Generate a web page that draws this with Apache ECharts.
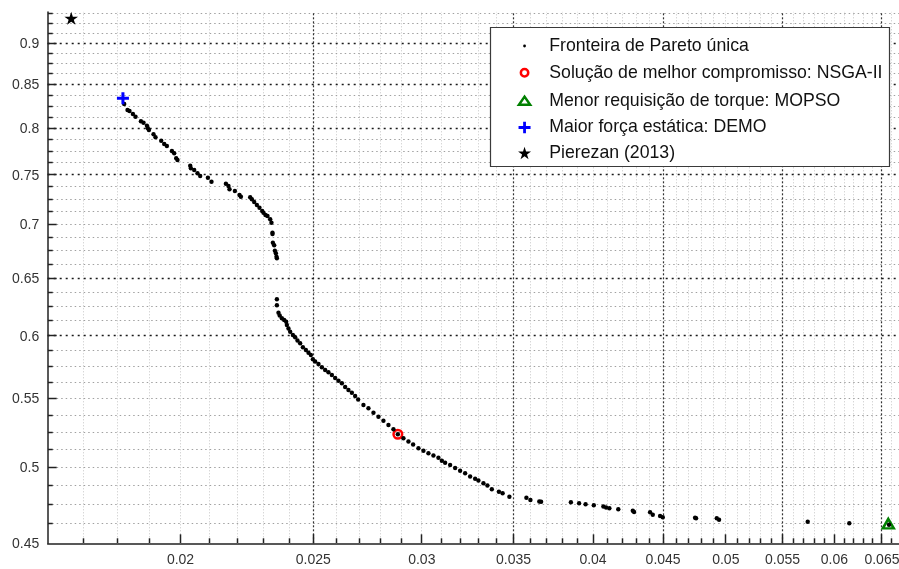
<!DOCTYPE html>
<html>
<head>
<meta charset="utf-8">
<title>Fronteira de Pareto</title>
<script src="https://cdn.jsdelivr.net/npm/echarts@6/dist/echarts.min.js"></script>
<style>
  html, body { margin: 0; padding: 0; background: #fff; }
  #chart { width: 899px; height: 569px; }
</style>
</head>
<body>
<div id="chart"></div>
<script>
// Non-dominated solutions (torque requirement vs. static force objective)
const paretoX = [
  0.018195, 0.018296, 0.018358, 0.018463, 0.018544, 0.018713, 0.018795, 0.018903, 0.018934, 0.018966,
  0.019113, 0.019178, 0.019362, 0.019460, 0.019548, 0.019713, 0.019789, 0.019856, 0.019899, 0.020329,
  0.020352, 0.020466, 0.020579, 0.020673, 0.020942, 0.021069, 0.021585, 0.021679, 0.021716, 0.021914,
  0.022084, 0.022136, 0.022484, 0.022548, 0.022636, 0.022739, 0.022838, 0.022942, 0.022992, 0.023070,
  0.023147, 0.023252, 0.023303, 0.023343, 0.023343, 0.023358, 0.023409, 0.023437, 0.023476, 0.023500,
  0.023516, 0.023516, 0.023516, 0.023579, 0.023627, 0.023714, 0.023806, 0.023886, 0.023914, 0.023978,
  0.024047, 0.024156, 0.024250, 0.024344, 0.024454, 0.024566, 0.024690, 0.024798, 0.024898, 0.024982,
  0.025078, 0.025218, 0.025362, 0.025503, 0.025645, 0.025792, 0.025935, 0.026079, 0.026229, 0.026375,
  0.026521, 0.026673, 0.026821, 0.026957, 0.027198, 0.027427, 0.027659, 0.027892, 0.028127, 0.028365,
  0.028604, 0.028816, 0.029088, 0.029334, 0.029566, 0.029831, 0.030082, 0.030336, 0.030592, 0.030850,
  0.031027, 0.031199, 0.031462, 0.031728, 0.031995, 0.032265, 0.032537, 0.032812, 0.032994, 0.033272,
  0.033497, 0.033745, 0.034150, 0.034363, 0.034757, 0.035764, 0.036006, 0.036548, 0.036659, 0.038541,
  0.039075, 0.039504, 0.040052, 0.040703, 0.040888, 0.041115, 0.041735, 0.042764, 0.042857, 0.044025,
  0.044225, 0.044771, 0.044974, 0.047482, 0.047562, 0.049244, 0.049435, 0.057376, 0.061528, 0.065772
];
const paretoY = [
  0.82732, 0.82047, 0.81933, 0.81593, 0.81288, 0.80771, 0.80615, 0.80280, 0.79991, 0.79803,
  0.79328, 0.79000, 0.78628, 0.78269, 0.78053, 0.77514, 0.77267, 0.76733, 0.76552, 0.75950,
  0.75676, 0.75498, 0.75153, 0.74873, 0.74696, 0.74284, 0.74078, 0.73842, 0.73505, 0.73332,
  0.72927, 0.72755, 0.72695, 0.72494, 0.72222, 0.71923, 0.71654, 0.71327, 0.71159, 0.70933,
  0.70835, 0.70511, 0.70180, 0.69214, 0.69089, 0.68261, 0.68015, 0.67508, 0.67265, 0.66949,
  0.66800, 0.63112, 0.62589, 0.61950, 0.61710, 0.61471, 0.61326, 0.61182, 0.60903, 0.60608,
  0.60340, 0.60064, 0.59873, 0.59608, 0.59377, 0.59049, 0.58829, 0.58609, 0.58423, 0.58075,
  0.57898, 0.57698, 0.57434, 0.57220, 0.57038, 0.56825, 0.56589, 0.56378, 0.56175, 0.55887,
  0.55656, 0.55448, 0.55195, 0.54927, 0.54510, 0.54261, 0.53932, 0.53633, 0.53337, 0.53020,
  0.52704, 0.52340, 0.52051, 0.51821, 0.51606, 0.51335, 0.51164, 0.50980, 0.50825, 0.50670,
  0.50460, 0.50320, 0.50160, 0.49952, 0.49765, 0.49586, 0.49366, 0.49216, 0.49093, 0.48903,
  0.48754, 0.48505, 0.48337, 0.48230, 0.48003, 0.47936, 0.47784, 0.47685, 0.47672, 0.47632,
  0.47573, 0.47500, 0.47441, 0.47355, 0.47290, 0.47244, 0.47172, 0.47080, 0.46996, 0.46976,
  0.46820, 0.46736, 0.46652, 0.46626, 0.46587, 0.46587, 0.46497, 0.46368, 0.46265, 0.46175
];

// Highlighted solutions [x, y]
const nsgaBest = [0.028816, 0.52340];
const mopsoMinTorque = [0.065695, 0.46239];
const demoMaxForce = [0.018156, 0.83388];
const pierezan2013 = [0.016645, 0.93176];

// Series names (legend order)
const seriesNames = [
  'Fronteira de Pareto única',
  'Solução de melhor compromisso: NSGA-II',
  'Menor requisição de torque: MOPSO',
  'Maior força estática: DEMO',
  'Pierezan (2013)'
];

// Axis ranges and labelled ticks (both axes logarithmic)
const xRange = [0.016, 0.067];
const yRange = [0.45, 0.94];
const xTickLabels = [0.02, 0.025, 0.03, 0.035, 0.04, 0.045, 0.05, 0.055, 0.06, 0.065];
const yTickLabels = [0.45, 0.5, 0.55, 0.6, 0.65, 0.7, 0.75, 0.8, 0.85, 0.9];
const xDarkGrid = [0.025, 0.035, 0.045, 0.055, 0.065];
const yDarkGrid = [0.6, 0.65, 0.75, 0.8, 0.85, 0.9];

// Minor tick steps: 0.001 on x, 0.0125 on y
const xMinor = [];
for (let k = 16; k <= 67; k++) xMinor.push(k / 1000);
const yMinor = [];
for (let k = 0; k <= 39; k++) yMinor.push(0.45 + k * 0.0125);

const FONT = '"Liberation Sans", Arial, Helvetica, sans-serif';
const near = (list, v) => list.some(m => Math.abs(m - v) < 1e-9);

// Grid lines, tick marks and tick labels placed through the log axes
function renderAxesDecor(params, api) {
  const [xl, yb] = api.coord([xRange[0], yRange[0]]);
  const [xr, yt] = api.coord([xRange[1], yRange[1]]);
  const snap = v => Math.round(v - 0.5) + 0.5;
  const px = v => snap(api.coord([v, yRange[0]])[0]);
  const py = v => snap(api.coord([xRange[0], v])[1]);
  const els = [];
  const line = (x1, y1, x2, y2, style) =>
    els.push({ type: 'line', shape: { x1, y1, x2, y2 }, style });

  xMinor.forEach(v => {
    if (v <= xRange[0] + 1e-9 || near(xDarkGrid, v)) return;
    const x = px(v);
    line(x, yb, x, yt, { stroke: '#c6c6c6', lineWidth: 1, lineDash: [1, 2] });
  });
  yMinor.forEach(v => {
    if (v <= yRange[0] + 1e-9 || near(yDarkGrid, v)) return;
    const y = py(v);
    line(xl, y, xr, y, { stroke: '#a0a0a0', lineWidth: 1, lineDash: [1.5, 3] });
  });
  xDarkGrid.forEach(v => {
    const x = px(v);
    line(x, yb, x, yt, { stroke: '#333', lineWidth: 1.2, lineDash: [2, 2] });
  });
  yDarkGrid.forEach(v => {
    const y = py(v);
    line(xl, y, xr, y, { stroke: '#1a1a1a', lineWidth: 1.3, lineDash: [2, 4] });
  });

  xMinor.forEach(v => {
    if (v <= xRange[0] + 1e-9) return;
    const x = px(v);
    const len = near(xTickLabels, v) ? 9 : 5;
    line(x, yb, x, yb - len, { stroke: '#222', lineWidth: 1.5 });
  });
  yMinor.forEach(v => {
    if (v <= yRange[0] + 1e-9) return;
    const y = py(v);
    const len = near(yTickLabels, v) ? 9 : 5;
    line(xl, y, xl + len, y, { stroke: '#222', lineWidth: 1.5 });
  });

  xTickLabels.forEach(v => {
    els.push({
      type: 'text', x: api.coord([v, yRange[0]])[0], y: yb + 17,
      style: { text: String(v), fontSize: 14, fontFamily: FONT, fill: '#333',
               align: 'center', verticalAlign: 'middle' }
    });
  });
  yTickLabels.forEach(v => {
    els.push({
      type: 'text', x: xl - 8.5, y: api.coord([xRange[0], v])[1] + 1,
      style: { text: String(v), fontSize: 14, fontFamily: FONT, fill: '#333',
               align: 'right', verticalAlign: 'middle' }
    });
  });
  return { type: 'group', children: els };
}

// Legend icons share a 43x20 frame so every marker sits in the same column
const frame = 'M0,0M43,20';
const legendIcons = [
  'path://' + frame + 'M21.9,10a1.4,1.4 0 1,0 2.8,0a1.4,1.4 0 1,0 -2.8,0z',
  'path://' + frame + 'M19.6,10a3.7,3.7 0 1,0 7.4,0a3.7,3.7 0 1,0 -7.4,0z',
  'path://' + frame + 'M23.3,5.9L28.9,14L17.7,14Z',
  'path://' + frame + 'M21.9,4.2h2.8v4.4h4.6v2.8h-4.6v4.4h-2.8v-4.4h-4.6v-2.8h4.6z',
  'path://' + frame + 'M23.3,3.85L24.83,8.55L29.77,8.55L25.77,11.45L27.3,16.15L23.3,13.25L19.3,16.15L20.83,11.45L16.83,8.55L21.77,8.55Z'
];
const plusSymbol = 'path://M-1.5,-6h3v4.5h4.5v3h-4.5v4.5h-3v-4.5h-4.5v-3h4.5z';
const starSymbol = 'path://M0,-6.8L1.53,-2.1L6.47,-2.1L2.47,0.8L4,5.5L0,2.6L-4,5.5L-2.47,0.8L-6.47,-2.1L-1.53,-2.1Z';

const paretoData = paretoX.map((x, i) => [x, paretoY[i]]);

const chart = echarts.init(document.getElementById('chart'), null, { renderer: 'canvas' });
chart.setOption({
  animation: false,
  backgroundColor: '#fff',
  grid: { left: 47.7, top: 11.9, width: 852.3, height: 531.4, outerBoundsMode: 'none' },
  xAxis: {
    type: 'log', min: xRange[0], max: xRange[1],
    axisLine: { show: true, lineStyle: { color: '#222', width: 1.5 } },
    axisTick: { show: false }, axisLabel: { show: false },
    splitLine: { show: false }, minorTick: { show: false }
  },
  yAxis: {
    type: 'log', min: yRange[0], max: yRange[1],
    axisLine: { show: true, lineStyle: { color: '#222', width: 1.5 } },
    axisTick: { show: false }, axisLabel: { show: false },
    splitLine: { show: false }, minorTick: { show: false }
  },
  legend: {
    orient: 'vertical', left: 490, top: 27.3,
    padding: [8.7, 8, 5, 10], itemGap: 5.5,
    itemWidth: 43, itemHeight: 20,
    selectedMode: false, z: 60,
    textStyle: { fontSize: 17.7, lineHeight: 20, color: '#111', fontFamily: FONT },
    data: [
      { name: seriesNames[0], icon: legendIcons[0], itemStyle: { color: '#000', borderWidth: 0, opacity: 1 } },
      { name: seriesNames[1], icon: legendIcons[1], itemStyle: { color: 'rgba(0,0,0,0)', borderColor: '#ff0000', borderWidth: 2.5, opacity: 1 } },
      { name: seriesNames[2], icon: legendIcons[2], itemStyle: { color: 'rgba(0,0,0,0)', borderColor: '#008000', borderWidth: 2.5, opacity: 1 } },
      { name: seriesNames[3], icon: legendIcons[3], itemStyle: { color: '#0000ff', borderWidth: 0, opacity: 1 } },
      { name: seriesNames[4], icon: legendIcons[4], itemStyle: { color: '#000', borderWidth: 0, opacity: 1 } }
    ]
  },
  graphic: [{
    type: 'rect', z: 50, silent: true,
    shape: { x: 490.5, y: 27.5, width: 399, height: 139 },
    style: { fill: '#fff', stroke: '#3a3a3a', lineWidth: 1.2 }
  }],
  series: [
    {
      type: 'custom', z: 1, silent: true,
      data: [[xRange[0], yRange[0]]],
      encode: { x: 0, y: 1 },
      renderItem: renderAxesDecor
    },
    {
      name: seriesNames[0], type: 'scatter', z: 6, silent: true,
      data: paretoData, symbol: 'circle', symbolSize: 4.4,
      itemStyle: { color: '#000', opacity: 1 }
    },
    {
      name: seriesNames[1], type: 'scatter', z: 4, silent: true,
      data: [nsgaBest], symbol: 'circle', symbolSize: 8.6,
      itemStyle: { color: 'rgba(0,0,0,0)', borderColor: '#ff0000', borderWidth: 2.5, opacity: 1 }
    },
    {
      name: seriesNames[2], type: 'scatter', z: 4, silent: true,
      data: [mopsoMinTorque], symbol: 'triangle', symbolSize: [11, 9.5],
      itemStyle: { color: 'rgba(0,0,0,0)', borderColor: '#008000', borderWidth: 2.5, opacity: 1 }
    },
    {
      name: seriesNames[3], type: 'scatter', z: 7, silent: true,
      data: [demoMaxForce], symbol: plusSymbol, symbolSize: 12,
      itemStyle: { color: '#0000ff', opacity: 1 }
    },
    {
      name: seriesNames[4], type: 'scatter', z: 7, silent: true,
      data: [pierezan2013], symbol: starSymbol, symbolSize: [13.6, 13],
      itemStyle: { color: '#000', opacity: 1 }
    }
  ]
});
</script>
</body>
</html>
